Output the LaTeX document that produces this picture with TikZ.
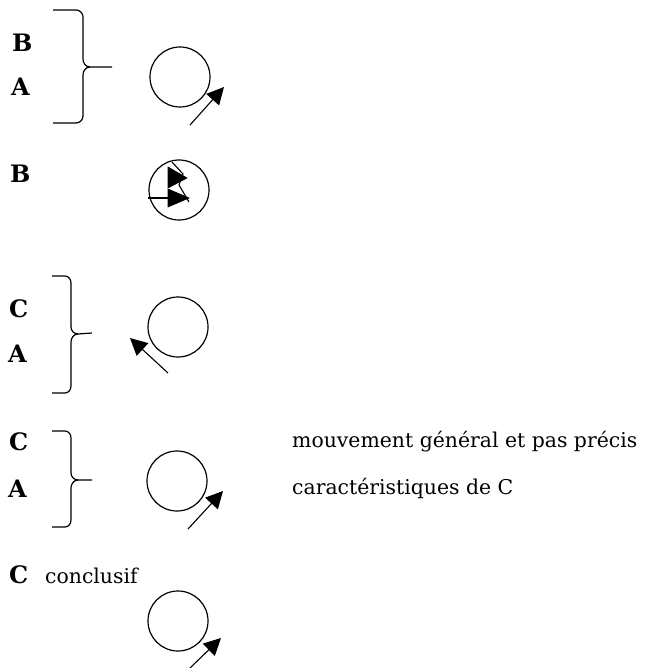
\documentclass[tikz,border=0pt]{standalone}
\usepackage{fontspec}
\setmainfont{DejaVu Serif}
\usetikzlibrary{arrows.meta}
\begin{document}
\begin{tikzpicture}[x=1pt,y=-1pt,
  lbl/.style={inner sep=0pt, anchor=base west, font=\fontsize{24}{28}\selectfont\bfseries},
  txt/.style={inner sep=0pt, anchor=base west, font=\fontsize{20.4}{24}\selectfont},
  brace/.style={line width=1.2pt, line join=round},
  ring/.style={draw, line width=1.2pt, circle, minimum size=60pt, inner sep=0pt},
  arr/.style={line width=1.1pt, -{Triangle[length=17pt,width=17pt]}},
  head/.style={fill=black, draw=black, line width=0.6pt},
]
\useasboundingbox (0,0) rectangle (646,668);

% ---------- row 1
\node[lbl] (b1) at (12,52) {B};
\node[lbl] (a1) at (11,96) {A};
\draw[brace] (53,10) -- (76,10) to[out=0,in=90] (83,17) -- (83,59)
  to[out=-90,in=180] (90,67) -- (112,67);
\draw[brace] (90,67) to[out=180,in=90] (83,75) -- (83,116)
  to[out=-90,in=0] (76,123) -- (53,123);
\node[ring] (c1) at (180,77) {};
\coordinate (s1) at (190,125);
\coordinate (t1) at (224,87);
\draw[arr] (s1) -- (t1);

% ---------- row 2
\node[lbl] (b2) at (10,183) {B};
\node[ring] (c2) at (179,190) {};
\draw[line width=1.1pt] (c2.west |- 0,198) -- (184,198);
\fill[head] (168,189) -- (189,198) -- (168,207) -- cycle;
\fill[head] (168,167) -- (187,178) -- (168,188) -- cycle;
\draw[line width=1.1pt] (172,162) -- (183,174) -- (179,185) -- (189,202);

% ---------- row 3
\node[lbl] (c3l) at (9,317) {C};
\node[lbl] (a3) at (8,362) {A};
\draw[brace] (52,276) -- (65,276) to[out=0,in=90] (71,283) -- (71,327)
  to[out=-90,in=180] (78,334) -- (92,333);
\draw[brace] (78,334) to[out=180,in=90] (71,342) -- (71,386)
  to[out=-90,in=0] (65,393) -- (52,393);
\node[ring] (c3) at (178,327) {};
\coordinate (s3) at (168,373);
\coordinate (t3) at (130,338);
\draw[arr] (s3) -- (t3);

% ---------- row 4
\node[lbl] (c4l) at (9,450) {C};
\node[lbl] (a4) at (8,497) {A};
\draw[brace] (52,431) -- (65,431) to[out=0,in=90] (71,438) -- (71,473)
  to[out=-90,in=180] (78,480) -- (92,480);
\draw[brace] (78,480) to[out=180,in=90] (71,488) -- (71,520)
  to[out=-90,in=0] (65,527) -- (52,527);
\node[ring] (c4) at (177,481) {};
\coordinate (s4) at (188,529);
\coordinate (t4) at (223,491);
\draw[arr] (s4) -- (t4);
\node[txt] (m1) at (292,447) {mouvement général et pas précis};
\node[txt] (m2) at (292,494) {caractéristiques de C};

% ---------- row 5
\node[lbl] (c5l) at (9,583) {C};
\node[txt] (concl) at (45,583) {conclusif};
\node[ring] (c5) at (178,621) {};
\coordinate (s5) at (190,668);
\coordinate (t5) at (221,638);
\draw[arr] (s5) -- (t5);
\end{tikzpicture}
\end{document}
